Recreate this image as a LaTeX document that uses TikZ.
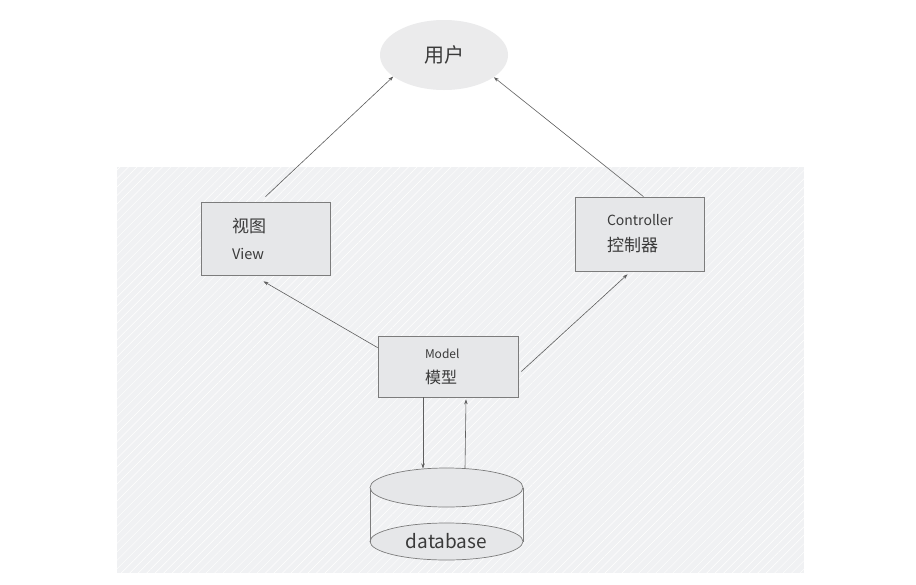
\documentclass[tikz,border=0pt]{standalone}
\usepackage{fontspec}
\setmainfont{Noto Sans CJK SC}
\usetikzlibrary{arrows.meta,calc,patterns.meta,shapes.geometric}
\definecolor{bgc}{HTML}{F0F1F3}
\definecolor{boxc}{HTML}{E6E7E9}
\definecolor{userc}{HTML}{EBEBEC}
\definecolor{linec}{HTML}{7C7C7C}
\definecolor{arrc}{HTML}{5E5E5E}
\definecolor{textc}{HTML}{3A3A3A}
\newcommand\zhtext[2]{{\fontsize{#1}{#1}\selectfont #2}}
\begin{document}
\begin{tikzpicture}[x=1pt,y=-1pt,
  box/.style={draw=linec, fill=boxc, line width=0.7pt, align=left, text=textc},
  arr/.style={draw=arrc, line width=0.6pt, -{Stealth[length=5pt,width=3.5pt]}},
  hatch/.style={pattern={Lines[angle=45,distance=6pt,line width=0.45pt]}, pattern color=white}]
\useasboundingbox (0,0) rectangle (916,584);
\fill[white] (0,0) rectangle (916,584);
% background region
\fill[bgc] (117,167) rectangle (804,573);
\fill[hatch] (117,167) rectangle (804,573);

% user
\node[ellipse, fill=userc, minimum width=128pt, minimum height=70pt, inner sep=0pt,
      text=textc, font=\fontsize{20}{22}\selectfont] (user) at (444,55) {用户};

% boxes
\node[box, text width=67pt, inner xsep=31pt, minimum height=73pt,
      font=\fontsize{14.5}{27}\selectfont] (view) at (265.5,238.5) {\zhtext{17}{视图}\\View};
\node[box, text width=65pt, inner xsep=32pt, minimum height=74pt,
      font=\fontsize{14}{26}\selectfont] (ctrl) at (639.5,234) {Controller\\\zhtext{17}{控制器}};
\node[box, text width=46pt, inner xsep=47pt, minimum height=61pt,
      font=\fontsize{12}{25}\selectfont] (model) at (448,366.5) {Model\\\zhtext{16}{模型}};

% database cylinder
\coordinate (dbtop) at (446.5,487.5);
\coordinate (dbbot) at (446.5,541.5);
\draw[draw=linec, line width=0.7pt, fill=boxc] (dbbot) ellipse [x radius=76.5pt, y radius=18.5pt];
\draw[draw=linec, line width=0.7pt] ($(dbtop)+(-76.5,0)$) -- ($(dbbot)+(-76.5,0)$);
\draw[draw=linec, line width=0.7pt] ($(dbtop)+(76.5,0)$) -- ($(dbbot)+(76.5,0)$);
\draw[draw=linec, line width=0.7pt, fill=boxc] (dbtop) ellipse [x radius=76.5pt, y radius=19.5pt];
\node[text=textc, font=\fontsize{19}{20}\selectfont, inner sep=0pt] (db) at (446.5,541) {database};

% connectors
\draw[arr] ($(view.north)+(0,-5)$) -- (user.203);
\draw[arr] ($(ctrl.north)+(4,0)$) -- (user.336);
\draw[arr] ($(model.north west)+(0,12)$) -- ($(view.south)+(-2,6)$);
\draw[arr] ($(model.east)+(3,5)$) -- ($(ctrl.south)+(-12,3)$);
\draw[arr] ($(model.south)+(-25,0)$) -- ($(dbtop)+(-23.5,-19)$);
\draw[arr] ($(dbtop)+(18.5,-19)$) -- ($(model.south)+(18,2)$);
\end{tikzpicture}
\end{document}
